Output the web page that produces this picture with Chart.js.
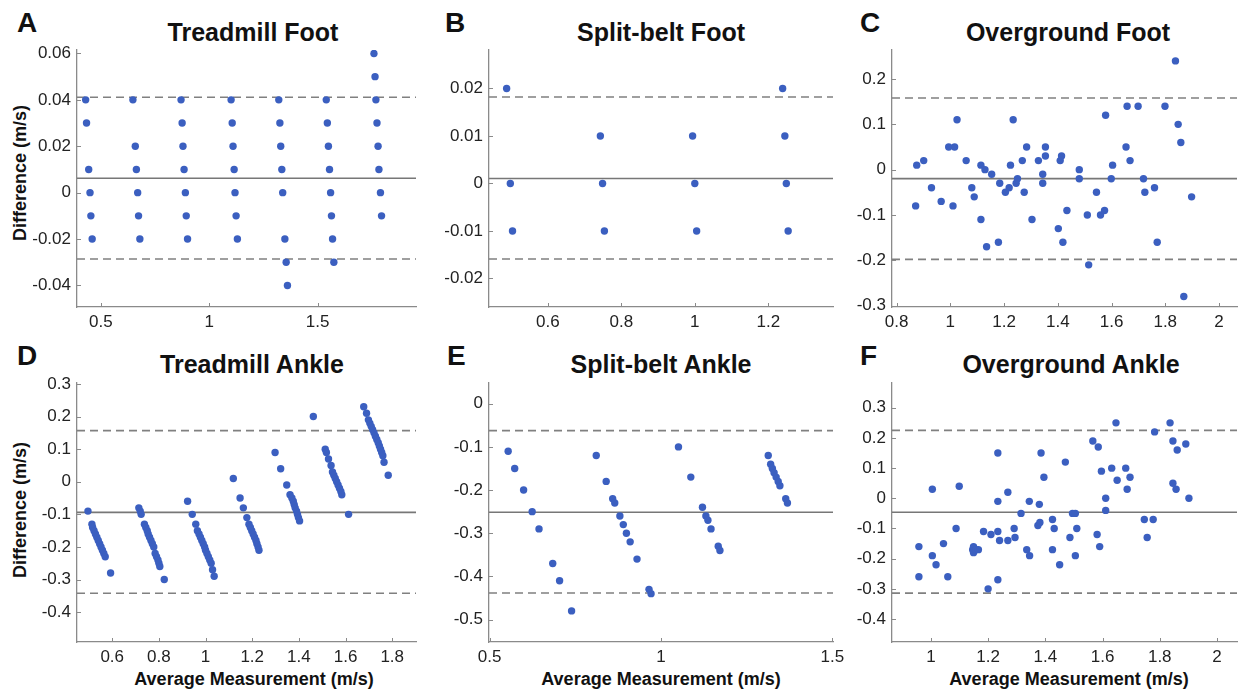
<!DOCTYPE html>
<html><head><meta charset="utf-8">
<script src="https://cdn.jsdelivr.net/npm/chart.js@4.4.1/dist/chart.umd.min.js"></script>
<style>
body{margin:0;background:#fff;}
#fig{position:relative;width:1241px;height:691px;overflow:hidden;font-family:"Liberation Sans",Arial,sans-serif;color:#111;}
canvas{position:absolute;}
.t{position:absolute;font-weight:bold;line-height:1;white-space:nowrap;}
.letter{font-size:28px;}
.title{font-size:25px;width:400px;text-align:center;}
.ax{font-size:18px;transform:translate(-50%,-50%);}
.yax{font-size:18px;transform:translate(-50%,-50%) rotate(-90deg);}
</style></head>
<body><div id="fig">
<div class="t letter" style="left:17px;top:9px">A</div>
<div class="t letter" style="left:445px;top:9px">B</div>
<div class="t letter" style="left:860px;top:9px">C</div>
<div class="t letter" style="left:17px;top:342px">D</div>
<div class="t letter" style="left:447px;top:342px">E</div>
<div class="t letter" style="left:860px;top:342px">F</div>
<div class="t title" style="left:53px;top:20px">Treadmill Foot</div>
<div class="t title" style="left:461px;top:20px">Split-belt Foot</div>
<div class="t title" style="left:868px;top:20px">Overground Foot</div>
<div class="t title" style="left:52px;top:352px">Treadmill Ankle</div>
<div class="t title" style="left:461px;top:352px">Split-belt Ankle</div>
<div class="t title" style="left:871px;top:352px">Overground Ankle</div>
<div class="t yax" style="left:20px;top:173px">Difference (m/s)</div>
<div class="t yax" style="left:20px;top:510px">Difference (m/s)</div>
<div class="t ax" style="left:254px;top:679px">Average Measurement (m/s)</div>
<div class="t ax" style="left:661px;top:679px">Average Measurement (m/s)</div>
<div class="t ax" style="left:1069px;top:679px">Average Measurement (m/s)</div>
</div>
<script>
// ---------- DATA ----------
// A: Treadmill Foot
const treadmillFootX = [0.43,0.434,0.444,0.45,0.454,0.46, 0.648,0.659,0.664,0.67,0.674,0.68, 0.87,0.875,0.879,0.884,0.89,0.894,0.9, 1.101,1.106,1.11,1.115,1.119,1.124,1.13, 1.321,1.326,1.33,1.335,1.339,1.349,1.355,1.361, 1.54,1.545,1.55,1.555,1.56,1.564,1.569,1.575, 1.76,1.765,1.769,1.774,1.779,1.783,1.79,1.795];
const treadmillFootY = [0.04,0.03,0.01,0,-0.01,-0.02, 0.04,0.02,0.01,0,-0.01,-0.02, 0.04,0.03,0.02,0.01,0,-0.01,-0.02, 0.04,0.03,0.02,0.01,0,-0.01,-0.02, 0.04,0.03,0.02,0.01,0,-0.02,-0.03,-0.04, 0.04,0.03,0.02,0.01,0,-0.01,-0.02,-0.03, 0.06,0.05,0.04,0.03,0.02,0.01,0,-0.01];
// B: Split-belt Foot
const splitFootX = [0.488,0.498,0.504, 0.743,0.749,0.754, 0.994,1.0,1.005, 1.239,1.245,1.249,1.254];
const splitFootY = [0.02,0,-0.01, 0.01,0,-0.01, 0.01,0,-0.01, 0.02,0.01,0,-0.01];
// C: Overground Foot
const overFootX = [0.871,0.875,0.901,0.930,0.966,0.994,1.010,1.016,1.025,1.059,1.080,1.089,1.114,1.114,1.129,1.135,1.154,1.179,1.184,1.205,1.219,1.224,1.234,1.245,1.250,1.268,1.275,1.284,1.304,1.328,1.344,1.344,1.354,1.354,1.402,1.409,1.414,1.419,1.434,1.480,1.480,1.510,1.515,1.544,1.559,1.574,1.578,1.599,1.604,1.654,1.658,1.669,1.699,1.719,1.724,1.760,1.770,1.799,1.838,1.848,1.858,1.869,1.898];
const overFootY = [-0.08,0.01,0.02,-0.04,-0.07,0.05,-0.08,0.05,0.11,0.02,-0.04,-0.06,-0.11,0.01,0.00,-0.17,-0.01,-0.16,-0.03,-0.05,-0.04,0.01,0.11,-0.03,-0.02,0.02,-0.05,0.05,-0.11,0.02,-0.01,-0.03,0.05,0.03,-0.13,0.02,0.03,-0.16,-0.09,0.00,-0.02,-0.10,-0.21,-0.05,-0.10,-0.09,0.12,-0.02,0.01,0.05,0.14,0.02,0.14,-0.02,-0.05,-0.04,-0.16,0.14,0.24,0.10,0.06,-0.28,-0.06];
// D: Treadmill Ankle
const treadmillAnkleX = [0.496,0.513,0.516,0.522,0.528,0.534,0.540,0.546,0.552,0.558,0.564,0.570,0.593,
 0.714,0.720,0.724,0.738,0.744,0.750,0.754,0.760,0.766,0.772,0.778,0.784,0.790,0.796,0.800,0.804,0.823,
 0.923,0.943,0.958,0.965,0.972,0.978,0.984,0.990,0.996,1.000,1.006,1.012,1.018,1.024,1.030,1.037,
 1.119,1.148,1.162,1.177,1.186,1.192,1.198,1.204,1.210,1.216,1.220,1.225,1.229,
 1.298,1.322,1.348,1.362,1.370,1.376,1.380,1.384,1.390,1.394,1.398,1.403,
 1.462,1.513,1.518,1.527,1.538,1.544,1.550,1.556,1.562,1.568,1.574,1.580,1.584,1.613,
 1.678,1.690,1.698,1.704,1.710,1.716,1.722,1.728,1.734,1.740,1.745,1.750,1.755,1.760,1.765,1.783];
const treadmillAnkleY = [-0.09,-0.13,-0.14,-0.15,-0.16,-0.17,-0.18,-0.19,-0.20,-0.21,-0.22,-0.23,-0.28,
 -0.08,-0.09,-0.10,-0.13,-0.14,-0.15,-0.16,-0.17,-0.18,-0.19,-0.20,-0.22,-0.23,-0.24,-0.25,-0.26,-0.30,
 -0.06,-0.10,-0.13,-0.15,-0.16,-0.17,-0.18,-0.19,-0.20,-0.21,-0.22,-0.23,-0.24,-0.25,-0.27,-0.29,
 0.01,-0.05,-0.08,-0.11,-0.13,-0.14,-0.15,-0.16,-0.17,-0.18,-0.19,-0.20,-0.21,
 0.09,0.04,-0.01,-0.04,-0.05,-0.06,-0.07,-0.08,-0.09,-0.10,-0.11,-0.12,
 0.20,0.10,0.09,0.07,0.05,0.03,0.02,0.01,0.00,-0.01,-0.02,-0.03,-0.04,-0.10,
 0.23,0.21,0.19,0.18,0.17,0.16,0.15,0.14,0.13,0.12,0.11,0.10,0.09,0.08,0.06,0.02];
// E: Split-belt Ankle
const splitAnkleX = [0.554,0.573,0.599,0.624,0.644,0.684,0.704,0.739, 0.811,0.840,0.859,0.865,0.880,0.890,0.899,0.910,0.930,0.965,0.971, 1.051,1.087,1.121,1.131,1.137,1.146,1.167,1.172, 1.313,1.320,1.325,1.330,1.336,1.342,1.347,1.364,1.369];
const splitAnkleY = [-0.11,-0.15,-0.20,-0.25,-0.29,-0.37,-0.41,-0.48, -0.12,-0.18,-0.22,-0.23,-0.26,-0.28,-0.30,-0.32,-0.36,-0.43,-0.44, -0.10,-0.17,-0.24,-0.26,-0.27,-0.29,-0.33,-0.34, -0.12,-0.14,-0.15,-0.16,-0.17,-0.18,-0.19,-0.22,-0.23];
// F: Overground Ankle
const overAnkleX = [0.958,0.958,1.005,1.005,1.018,1.044,1.059,1.088,1.099,1.146,1.149,1.149,1.157,1.166,1.184,1.200,1.210,1.234,1.234,1.234,1.234,1.240,1.269,1.269,1.291,1.294,1.315,1.335,1.344,1.345,1.374,1.379,1.381,1.385,1.395,1.425,1.425,1.431,1.450,1.470,1.486,1.495,1.505,1.505,1.510,1.566,1.581,1.585,1.590,1.596,1.611,1.611,1.632,1.647,1.651,1.681,1.686,1.696,1.746,1.756,1.777,1.782,1.836,1.846,1.846,1.857,1.861,1.891,1.902];
const overAnkleY = [-0.16,-0.26,0.03,-0.19,-0.22,-0.15,-0.26,-0.10,0.04,-0.17,-0.16,-0.18,-0.17,-0.17,-0.11,-0.30,-0.12,0.15,-0.01,-0.11,-0.27,-0.14,0.02,-0.14,-0.10,-0.13,-0.05,-0.17,-0.01,-0.19,-0.09,-0.02,-0.08,0.15,0.07,-0.07,-0.17,-0.10,-0.22,0.12,-0.13,-0.05,-0.05,-0.19,-0.10,0.19,-0.12,0.17,-0.16,0.09,0.00,-0.04,0.10,0.25,0.06,0.10,0.03,0.07,-0.07,-0.13,-0.07,0.22,0.25,0.19,0.05,0.03,0.16,0.18,0.00];

// Bias and limits of agreement (A..F)
const meanDiff = [0.0062, 0.00105, -0.0198, -0.094, -0.2515, -0.0463];
const upperLoA = [0.0411, 0.0182, 0.158, 0.157, -0.0623, 0.2249];
const lowerLoA = [-0.0286, -0.0159, -0.198, -0.342, -0.4385, -0.314];

// Tick labels
const xTicksA = [0.5, 1, 1.5];
const yTicksA = [-0.04, -0.02, 0, 0.02, 0.04, 0.06];
const xTicksB = [0.6, 0.8, 1, 1.2];
const yTicksB = [-0.02, -0.01, 0, 0.01, 0.02];
const xTicksC = [0.8, 1, 1.2, 1.4, 1.6, 1.8, 2];
const yTicksC = [-0.3, -0.2, -0.1, 0, 0.1, 0.2];
const xTicksD = [0.6, 0.8, 1, 1.2, 1.4, 1.6, 1.8];
const yTicksD = [-0.4, -0.3, -0.2, -0.1, 0, 0.1, 0.2, 0.3];
const xTicksE = [0.5, 1, 1.5];
const yTicksE = [-0.5, -0.4, -0.3, -0.2, -0.1, 0];
const xTicksF = [1, 1.2, 1.4, 1.6, 1.8, 2];
const yTicksF = [-0.4, -0.3, -0.2, -0.1, 0, 0.1, 0.2, 0.3];

// Axis ranges
const xRangeA = [0.39, 1.954],  yRangeA = [-0.0493, 0.0615];
const xRangeB = [0.44, 1.376],  yRangeB = [-0.026, 0.0281];
const xRangeC = [0.783, 2.067], yRangeC = [-0.303, 0.264];
const xRangeD = [0.449, 1.902], yRangeD = [-0.4916, 0.303];
const xRangeE = [0.498, 1.502], yRangeE = [-0.552, 0.048];
const xRangeF = [0.864, 2.07],  yRangeF = [-0.476, 0.382];

// ---------- DRAWING ----------
Chart.defaults.font.family = "'Liberation Sans', Arial, sans-serif";
Chart.defaults.font.size = 17;
Chart.defaults.color = '#222';

const DOT = '#3b5fc0';
const AXIS = '#8a8a8a';

const innerTicks = {
  id: 'innerTicks',
  afterDatasetsDraw(chart) {
    const {ctx, chartArea: a, scales: {x, y}} = chart;
    ctx.save();
    ctx.strokeStyle = AXIS; ctx.lineWidth = 1;
    x.ticks.forEach(t => { const p = Math.round(x.getPixelForValue(t.value)) + 0.5;
      ctx.beginPath(); ctx.moveTo(p, a.bottom); ctx.lineTo(p, a.bottom - 4); ctx.stroke(); });
    y.ticks.forEach(t => { const p = Math.round(y.getPixelForValue(t.value)) + 0.5;
      ctx.beginPath(); ctx.moveTo(a.left, p); ctx.lineTo(a.left + 4, p); ctx.stroke(); });
    ctx.restore();
  }
};

function fmt(v){ return String(Number(v.toFixed(4))); }

function hline(xr, v, dashed){
  return {type:'line', data:[{x:xr[0], y:v},{x:xr[1], y:v}], borderColor: dashed ? '#808080' : '#777777',
    borderWidth: 1.6, borderDash: dashed ? [8,5] : [], pointRadius:0, fill:false, clip:false};
}

function panel(L, i, xs, ys, xr, yr, xt, yt){
  const c = document.createElement('canvas');
  c.width = L.w; c.height = L.h;
  c.style.left = L.left + 'px'; c.style.top = L.top + 'px';
  c.style.width = L.w + 'px'; c.style.height = L.h + 'px';
  document.getElementById('fig').appendChild(c);
  const pts = xs.map((x, k) => ({x, y: ys[k]}));
  new Chart(c, {
    type: 'scatter',
    data: { datasets: [
      {data: pts, backgroundColor: DOT, borderWidth: 0, pointRadius: 3.7},
      hline(xr, meanDiff[i], false),
      hline(xr, upperLoA[i], true),
      hline(xr, lowerLoA[i], true)
    ]},
    options: {
      responsive: false, animation: false, devicePixelRatio: 1, events: [],
      layout: {padding: {left: 0, right: L.pr, top: L.pt, bottom: 0}},
      plugins: {legend: {display: false}, tooltip: {enabled: false}},
      scales: {
        x: {type: 'linear', min: xr[0], max: xr[1],
            grid: {display: false, drawTicks: false},
            border: {display: true, color: AXIS, width: 1.3},
            ticks: {padding: 5, autoSkip: false, maxRotation: 0, color: '#222', callback: v => fmt(v)},
            afterBuildTicks: s => { s.ticks = xt.map(v => ({value: v})); },
            afterFit: s => { s.height = L.xh; }},
        y: {type: 'linear', min: yr[0], max: yr[1],
            grid: {display: false, drawTicks: false},
            border: {display: true, color: AXIS, width: 1.3},
            ticks: {padding: 6, autoSkip: false, color: '#222', callback: v => fmt(v)},
            afterBuildTicks: s => { s.ticks = yt.map(v => ({value: v})); },
            afterFit: s => { s.width = L.yw; }}
      }
    },
    plugins: [innerTicks]
  });
}

const topRow = {top: 0, h: 340, pt: 50, xh: 33};
const botRow = {top: 340, h: 351, pt: 43, xh: 49};
const col1 = {left: 0, w: 420, yw: 77, pr: 2};
const col2 = {left: 420, w: 430, yw: 69, pr: 17};
const col3 = {left: 830, w: 411, yw: 62, pr: 0};
const L = (c, r) => Object.assign({}, c, r);

panel(L(col1, topRow), 0, treadmillFootX, treadmillFootY, xRangeA, yRangeA, xTicksA, yTicksA);
panel(L(col2, topRow), 1, splitFootX, splitFootY, xRangeB, yRangeB, xTicksB, yTicksB);
panel(L(col3, topRow), 2, overFootX, overFootY, xRangeC, yRangeC, xTicksC, yTicksC);
panel(L(col1, botRow), 3, treadmillAnkleX, treadmillAnkleY, xRangeD, yRangeD, xTicksD, yTicksD);
panel(L(col2, botRow), 4, splitAnkleX, splitAnkleY, xRangeE, yRangeE, xTicksE, yTicksE);
panel(L(col3, botRow), 5, overAnkleX, overAnkleY, xRangeF, yRangeF, xTicksF, yTicksF);
</script>
</body></html>
